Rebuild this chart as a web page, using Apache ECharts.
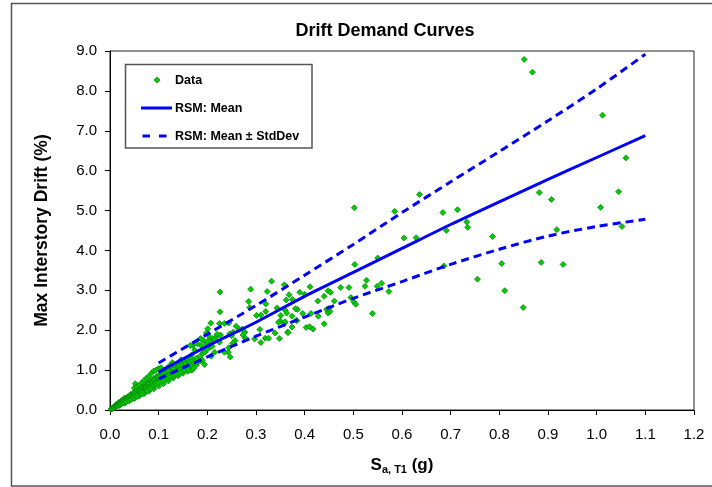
<!DOCTYPE html>
<html>
<head>
<meta charset="utf-8">
<script src="https://cdn.jsdelivr.net/npm/echarts@6/dist/echarts.min.js"></script>
<style>
html,body{margin:0;padding:0;background:#fff;}
#chart{width:712px;height:487px;}
</style>
</head>
<body>
<div id="chart"></div>
<script>
// ---- Data ----
const chartTitle = 'Drift Demand Curves';
const xTickValues = [0, 0.1, 0.2, 0.3, 0.4, 0.5, 0.6, 0.7, 0.8, 0.9, 1.0, 1.1, 1.2];
const yTickValues = [0, 1, 2, 3, 4, 5, 6, 7, 8, 9];

// RSM curves
const curveSa = [0.1, 0.2, 0.3, 0.4, 0.5, 0.6, 0.7, 0.8, 0.9, 1.0, 1.1];
const rsmMean = [0.95, 1.6, 2.2, 2.85, 3.45, 4.05, 4.65, 5.22, 5.78, 6.33, 6.88];
const rsmUpper = [1.18, 1.9, 2.62, 3.38, 4.15, 4.95, 5.72, 6.48, 7.25, 8.05, 8.92];
const rsmLower = [0.78, 1.33, 1.85, 2.33, 2.8, 3.22, 3.65, 4.03, 4.36, 4.6, 4.78];

// Scatter data [Sa (g), drift (%)]
const driftData = [
  [0.851,8.79],[0.868,8.47],[1.012,7.39],[1.060,6.32],[0.882,5.45],[0.907,5.28],[1.045,5.47],[1.008,5.08],
  [0.918,4.52],[1.052,4.60],[0.805,3.67],[0.886,3.70],[0.931,3.65],[0.811,2.99],[0.849,2.57],
  [0.502,5.07],[0.585,4.98],[0.636,5.40],[0.684,4.95],[0.714,5.02],[0.733,4.71],[0.735,4.58],[0.691,4.50],
  [0.604,4.31],[0.629,4.32],[0.786,4.35],[0.550,3.81],[0.503,3.65],[0.686,3.61],[0.755,3.28],
  [0.474,3.07],[0.491,3.07],[0.495,2.82],[0.501,2.71],[0.505,2.65],[0.527,3.25],[0.524,3.10],[0.549,3.10],
  [0.558,3.18],[0.573,2.97],[0.539,2.42],
  [0.358,3.14],[0.411,3.09],[0.368,2.89],[0.390,2.95],[0.400,2.90],[0.440,2.85],[0.448,2.99],[0.453,2.95],
  [0.427,2.73],[0.362,2.76],[0.461,2.73],[0.360,2.50],[0.363,2.43],[0.385,2.52],[0.396,2.42],[0.413,2.42],
  [0.374,2.35],[0.384,2.24],[0.428,2.35],[0.445,2.52],[0.448,2.43],[0.452,2.47],[0.350,2.23],[0.358,2.17],
  [0.374,2.08],[0.403,2.07],[0.417,2.03],[0.440,2.16],[0.365,1.95],[0.348,1.79],[0.410,2.09],[0.450,2.55],
  [0.226,2.96],[0.226,2.46],[0.289,3.03],[0.332,3.23],[0.323,2.97],[0.285,2.72],[0.287,2.57],[0.320,2.66],
  [0.301,2.37],[0.310,2.38],[0.320,2.47],[0.343,2.56],[0.375,2.77],[0.381,2.54],[0.351,2.37],
  [0.346,2.20],[0.360,2.21],[0.339,1.93],[0.366,1.94],[0.383,2.25],[0.308,2.02],[0.319,1.80],[0.326,1.80],
  [0.310,1.69],[0.297,1.78],[0.278,1.80],[0.273,1.88],[0.259,2.10],[0.266,2.02],[0.272,2.03],[0.277,1.95],
  [0.253,1.95],[0.250,1.86],[0.246,1.91],[0.257,1.74],[0.252,1.67],[0.244,1.56],[0.243,1.45],[0.247,1.33],
  [0.235,1.45],[0.227,1.88],[0.225,1.70],[0.218,1.83],[0.207,2.18],[0.225,2.17],[0.235,2.17],[0.244,2.18],
  [0.201,1.91],[0.205,1.83],[0.211,1.79],[0.208,1.70],[0.198,1.66],[0.191,1.75],[0.187,1.62],[0.170,1.62],
  [0.180,1.66],[0.206,1.58],[0.215,1.45],[0.208,1.35],[0.191,1.43],[0.178,1.26],[0.186,1.23],[0.194,1.14],
  [0.167,1.00],[0.177,1.12],[0.174,1.50],[0.167,1.37],
  [0.146,1.26],[0.153,1.16],[0.160,1.25],[0.174,1.26],[0.180,1.20],[0.128,1.19],[0.116,1.01],[0.125,1.00],
  [0.165,1.62],[0.186,1.79],[0.198,1.93],[0.201,2.04],[0.168,1.00],[0.052,0.66],[0.136,1.08],
  [0.105,0.95],[0.110,1.00],[0.118,1.05],[0.122,1.10],[0.130,1.00],[0.135,0.95],[0.140,1.05],[0.145,1.10],
  [0.150,0.98],[0.155,1.02],[0.160,1.10],[0.165,1.30],[0.170,1.18],[0.172,1.05],[0.178,1.30],[0.185,1.35],
  [0.190,1.25],[0.195,1.45],[0.200,1.52],[0.210,1.60],[0.200,1.72],[0.215,1.75],[0.220,1.90],
  [0.050,0.55],[0.055,0.58],[0.060,0.62],[0.065,0.68],[0.070,0.74],[0.075,0.80],[0.080,0.85],[0.085,0.92],
  [0.090,0.98],[0.095,1.00],[0.100,1.04],[0.105,1.06],
  [0.012,0.13],[0.018,0.19],[0.024,0.24],[0.030,0.30],[0.036,0.33],[0.042,0.39],[0.048,0.43],[0.054,0.47],
  [0.060,0.53],[0.066,0.57],[0.072,0.63],[0.078,0.68],[0.084,0.73],[0.090,0.79],[0.096,0.84],[0.102,0.88],
  [0.108,0.93],[0.114,0.98],[0.120,1.03],[0.126,1.07],[0.132,1.12],[0.138,1.16],[0.144,1.21],[0.150,1.24],
  [0.020,0.11],[0.030,0.17],[0.040,0.23],[0.050,0.29],[0.060,0.35],[0.070,0.41],[0.080,0.47],[0.090,0.53],
  [0.100,0.60],[0.110,0.66],[0.120,0.73],[0.130,0.80],[0.140,0.86],[0.150,0.92],[0.160,0.97],
  [0.002,0.02],[0.004,0.03],[0.005,0.05],[0.006,0.04],[0.008,0.07],[0.009,0.06],[0.010,0.09],[0.011,0.08],
  [0.012,0.10],[0.013,0.12],[0.014,0.10],[0.015,0.13],[0.016,0.11],[0.017,0.15],[0.018,0.13],[0.019,0.17],
  [0.020,0.14],[0.021,0.18],[0.022,0.16],[0.023,0.20],[0.024,0.17],[0.025,0.22],[0.026,0.19],[0.027,0.24],
  [0.028,0.21],[0.029,0.18],[0.030,0.25],[0.031,0.22],[0.032,0.27],[0.033,0.24],[0.034,0.21],[0.035,0.28],
  [0.036,0.26],[0.037,0.30],[0.038,0.27],[0.039,0.24],[0.040,0.32],[0.041,0.29],[0.042,0.35],[0.043,0.31],
  [0.044,0.27],[0.045,0.36],[0.046,0.33],[0.047,0.38],[0.048,0.34],[0.049,0.30],[0.050,0.40],[0.051,0.36],
  [0.053,0.41],[0.054,0.38],[0.055,0.44],[0.056,0.34],[0.057,0.46],[0.058,0.42],[0.059,0.48],[0.060,0.39],
  [0.061,0.45],[0.062,0.50],[0.063,0.43],[0.064,0.52],[0.065,0.47],[0.066,0.41],[0.067,0.54],[0.068,0.49],
  [0.069,0.56],[0.070,0.45],[0.071,0.52],[0.072,0.58],[0.073,0.50],[0.074,0.60],[0.075,0.55],[0.076,0.48],
  [0.077,0.62],[0.078,0.57],[0.079,0.65],[0.080,0.52],[0.081,0.60],[0.082,0.67],[0.083,0.58],[0.084,0.54],
  [0.085,0.70],[0.086,0.63],[0.087,0.59],[0.088,0.72],[0.089,0.66],[0.090,0.61],[0.091,0.75],[0.092,0.68],
  [0.093,0.64],[0.094,0.78],[0.095,0.70],[0.096,0.66],[0.097,0.80],[0.098,0.73],[0.099,0.69],[0.100,0.83],
  [0.102,0.76],[0.104,0.72],[0.105,0.86],[0.107,0.79],[0.109,0.74],[0.110,0.90],[0.112,0.82],[0.114,0.77],
  [0.115,0.93],[0.117,0.85],[0.119,0.80],[0.120,0.97],[0.122,0.88],[0.124,0.83],[0.127,0.91],[0.130,0.86],
  [0.131,1.03],[0.133,0.94],[0.135,0.89],[0.138,0.98],[0.140,0.92],[0.142,1.10],[0.144,1.02],[0.146,0.95],
  [0.148,1.13],[0.150,1.05],[0.152,0.99],[0.155,1.16],[0.157,1.08],[0.160,1.02],[0.163,1.20],[0.165,1.12]
];

const seriesNames = ['Data', 'RSM: Mean', 'RSM: Mean \u00b1 StdDev'];
const xAxisTitle = ['S', 'a, T1', ' (g)'];
const yAxisTitle = 'Max Interstory Drift (%)';

// ---- Chart ----
const FONT = '"Liberation Sans", Arial, sans-serif';
const BLUE = '#0000ff';
const pairs = (xs, ys) => xs.map((x, i) => [x, ys[i]]);
const chart = echarts.init(document.getElementById('chart'), null, {renderer: 'canvas'});

const legendText = {fontFamily: FONT, fontWeight: 'bold', fontSize: 12.5, fill: '#000', verticalAlign: 'middle', align: 'left'};

const option = {
  animation: false,
  backgroundColor: '#ffffff',
  graphic: [
    { type: 'rect', silent: true, z: -10,
      shape: {x: 11.5, y: 3.5, width: 720, height: 482.5},
      style: {fill: 'none', stroke: '#555555', lineWidth: 1.5} },
    // legend box
    { type: 'group', z: 100, children: [
      { type: 'rect', shape: {x: 125.5, y: 64.5, width: 186.5, height: 83.5},
        style: {fill: '#fff', stroke: '#555555', lineWidth: 1.5} },
      { type: 'polygon', shape: {points: [[157, 77], [160, 80], [157, 83], [154, 80]]},
        style: {fill: '#00cc00', stroke: '#008000', lineWidth: 0.7} },
      { type: 'text', style: Object.assign({x: 175, y: 80.5, text: seriesNames[0]}, legendText) },
      { type: 'line', shape: {x1: 141, y1: 108, x2: 172, y2: 108},
        style: {stroke: BLUE, lineWidth: 3} },
      { type: 'text', style: Object.assign({x: 175, y: 108.5, text: seriesNames[1]}, legendText) },
      { type: 'line', shape: {x1: 142.5, y1: 136, x2: 167, y2: 136},
        style: {stroke: BLUE, lineWidth: 3, lineDash: [7.5, 9]} },
      { type: 'text', style: Object.assign({x: 175, y: 136.5, text: seriesNames[2]}, legendText) }
    ]}
  ],
  title: {
    text: chartTitle, left: 385, top: 22, textAlign: 'center', padding: 0,
    textStyle: {fontFamily: FONT, fontWeight: 'bold', fontSize: 18, color: '#000'}
  },
  grid: {
    left: 110, top: 51, width: 584, height: 359,
    show: true, borderColor: '#222', borderWidth: 1, backgroundColor: '#fff'
  },
  xAxis: {
    type: 'value', min: xTickValues[0], max: xTickValues[xTickValues.length - 1], interval: 0.1,
    name: '{s|' + xAxisTitle[0] + '}{sub|' + xAxisTitle[1] + '}{s|' + xAxisTitle[2] + '}',
    nameLocation: 'middle', nameGap: 45,
    nameTextStyle: {
      rich: {
        s: {fontFamily: FONT, fontWeight: 'bold', fontSize: 17, color: '#000', lineHeight: 20},
        sub: {fontFamily: FONT, fontWeight: 'bold', fontSize: 11, color: '#000', lineHeight: 12, verticalAlign: 'bottom'}
      }
    },
    axisLine: {onZero: false, lineStyle: {color: '#000', width: 1}},
    axisTick: {show: true, inside: false, length: 5, lineStyle: {color: '#000'}},
    axisLabel: {formatter: v => v.toFixed(1), margin: 17, fontFamily: FONT, fontSize: 15, color: '#000'},
    splitLine: {show: false}
  },
  yAxis: {
    type: 'value', min: yTickValues[0], max: yTickValues[yTickValues.length - 1], interval: 1,
    name: yAxisTitle, nameLocation: 'middle', nameGap: 59, nameRotate: 90,
    nameTextStyle: {fontFamily: FONT, fontWeight: 'bold', fontSize: 17.5, color: '#000'},
    axisLine: {onZero: false, lineStyle: {color: '#000', width: 1}},
    axisTick: {show: true, inside: false, length: 5, lineStyle: {color: '#000'}},
    axisLabel: {formatter: v => v.toFixed(1), margin: 13, fontFamily: FONT, fontSize: 15, color: '#000'},
    splitLine: {show: false}
  },
  series: [
    {
      name: seriesNames[0], type: 'scatter', data: driftData,
      symbol: 'diamond', symbolSize: 6, z: 2,
      itemStyle: {color: '#00cc00', borderColor: '#008000', borderWidth: 0.7, opacity: 1}
    },
    {
      name: seriesNames[1], type: 'line', data: pairs(curveSa, rsmMean),
      symbol: 'none', smooth: 0.3, z: 3,
      lineStyle: {color: BLUE, width: 3, type: 'solid'}
    },
    {
      name: seriesNames[2], type: 'line', data: pairs(curveSa, rsmUpper),
      symbol: 'none', smooth: 0.3, z: 3,
      lineStyle: {color: BLUE, width: 3, type: [8, 5]}
    },
    {
      name: seriesNames[2], type: 'line', data: pairs(curveSa, rsmLower),
      symbol: 'none', smooth: 0.3, z: 3,
      lineStyle: {color: BLUE, width: 3, type: [8, 5]}
    }
  ]
};
chart.setOption(option);
</script>
</body>
</html>
